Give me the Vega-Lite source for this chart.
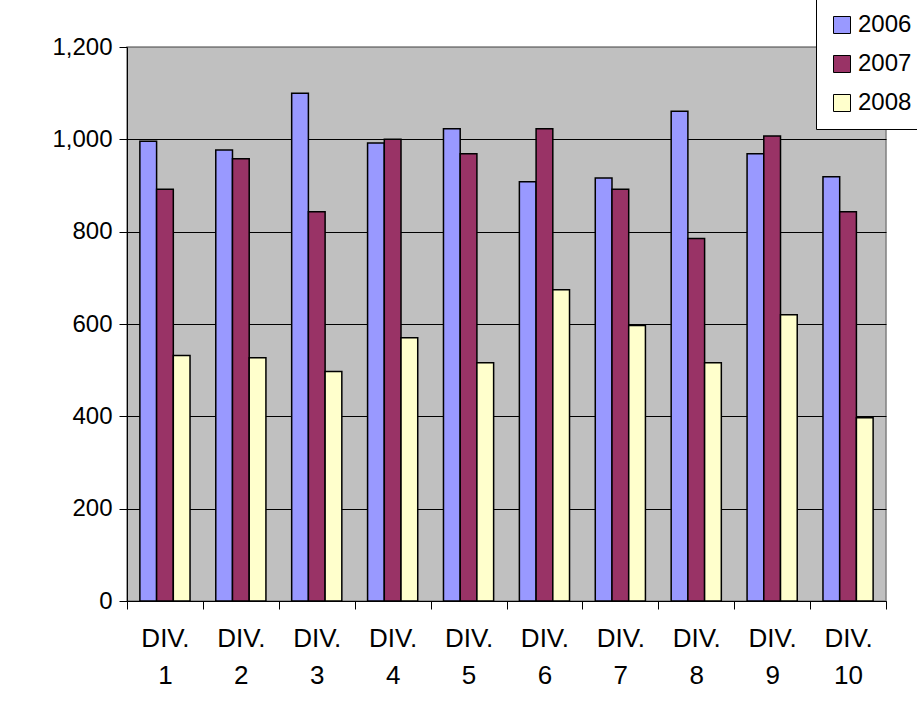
{
  "$schema": "https://vega.github.io/schema/vega-lite/v6.json",
  "width": 759,
  "height": 554,
  "autosize": {"type": "none"},
  "padding": {"left": 127, "top": 47, "right": 31, "bottom": 100},
  "background": "white",
  "config": {
    "font": "Liberation Sans",
    "view": {"fill": "#C0C0C0", "stroke": "#808080", "strokeWidth": 1.5}
  },
  "data": {
    "values": [
      {"div": "DIV. 1", "year": "2006", "value": 996},
      {"div": "DIV. 1", "year": "2007", "value": 892},
      {"div": "DIV. 1", "year": "2008", "value": 532},
      {"div": "DIV. 2", "year": "2006", "value": 977},
      {"div": "DIV. 2", "year": "2007", "value": 958},
      {"div": "DIV. 2", "year": "2008", "value": 527},
      {"div": "DIV. 3", "year": "2006", "value": 1100},
      {"div": "DIV. 3", "year": "2007", "value": 843},
      {"div": "DIV. 3", "year": "2008", "value": 497},
      {"div": "DIV. 4", "year": "2006", "value": 992},
      {"div": "DIV. 4", "year": "2007", "value": 1000},
      {"div": "DIV. 4", "year": "2008", "value": 570},
      {"div": "DIV. 5", "year": "2006", "value": 1023},
      {"div": "DIV. 5", "year": "2007", "value": 969},
      {"div": "DIV. 5", "year": "2008", "value": 516},
      {"div": "DIV. 6", "year": "2006", "value": 908},
      {"div": "DIV. 6", "year": "2007", "value": 1023},
      {"div": "DIV. 6", "year": "2008", "value": 674},
      {"div": "DIV. 7", "year": "2006", "value": 916},
      {"div": "DIV. 7", "year": "2007", "value": 892},
      {"div": "DIV. 7", "year": "2008", "value": 597},
      {"div": "DIV. 8", "year": "2006", "value": 1061},
      {"div": "DIV. 8", "year": "2007", "value": 785},
      {"div": "DIV. 8", "year": "2008", "value": 516},
      {"div": "DIV. 9", "year": "2006", "value": 969},
      {"div": "DIV. 9", "year": "2007", "value": 1007},
      {"div": "DIV. 9", "year": "2008", "value": 620},
      {"div": "DIV. 10", "year": "2006", "value": 919},
      {"div": "DIV. 10", "year": "2007", "value": 843},
      {"div": "DIV. 10", "year": "2008", "value": 397}
    ]
  },
  "mark": {"type": "bar", "stroke": "black", "strokeWidth": 1.5},
  "encoding": {
    "x": {
      "field": "div",
      "type": "nominal",
      "sort": null,
      "scale": {"paddingInner": 0, "paddingOuter": 0},
      "axis": {
        "title": null,
        "labelAngle": 0,
        "labelExpr": "split(datum.label, ' ')",
        "labelFontSize": 26,
        "labelColor": "black",
        "labelLineHeight": 37,
        "labelPadding": 16,
        "tickBand": "extent",
        "tickSize": 8,
        "tickColor": "black",
        "domainColor": "black",
        "domainWidth": 1,
        "grid": false
      }
    },
    "xOffset": {"field": "year", "type": "nominal", "scale": {"paddingInner": 0, "paddingOuter": 0.77}},
    "y": {
      "field": "value",
      "type": "quantitative",
      "scale": {"domain": [0, 1200], "nice": false},
      "axis": {
        "title": null,
        "values": [0, 200, 400, 600, 800, 1000, 1200],
        "format": ",d",
        "labelFontSize": 24,
        "labelColor": "black",
        "labelPadding": 7,
        "tickSize": 8,
        "tickColor": "black",
        "domainColor": "black",
        "grid": true,
        "gridColor": {"condition": {"test": "datum.value == 1200", "value": "#808080"}, "value": "black"},
        "gridWidth": 1,
        "gridOpacity": 1
      }
    },
    "color": {
      "field": "year",
      "type": "nominal",
      "scale": {"domain": ["2006", "2007", "2008"], "range": ["#9999FF", "#993366", "#FFFFCC"]},
      "legend": {
        "title": null,
        "orient": "none",
        "legendX": 689,
        "legendY": -48,
        "symbolType": "square",
        "symbolSize": 289,
        "symbolStrokeColor": "black",
        "symbolStrokeWidth": 1,
        "symbolOpacity": 1,
        "labelFontSize": 24,
        "labelColor": "black",
        "labelOffset": 4,
        "rowPadding": 15,
        "padding": 14,
        "strokeColor": "black",
        "fillColor": "white"
      }
    }
  }
}
